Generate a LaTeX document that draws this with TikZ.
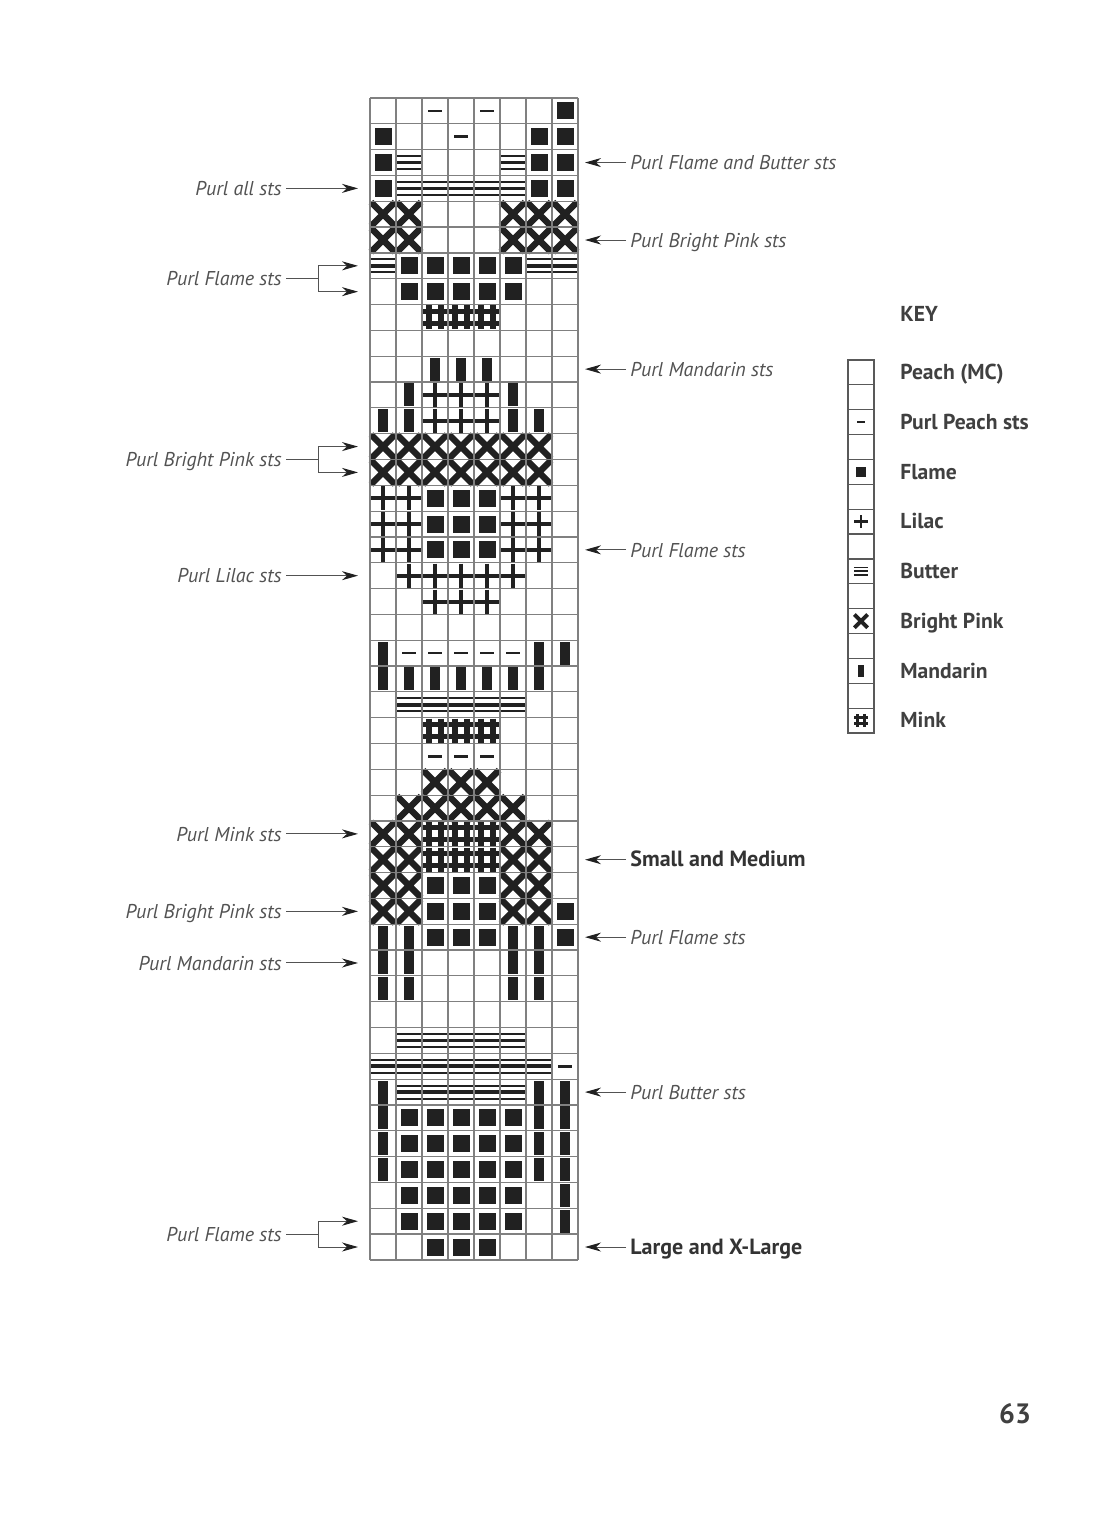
\documentclass[tikz,border=0pt]{standalone}
\usepackage{fontspec}
\setmainfont{PT Sans}
\usetikzlibrary{arrows.meta, positioning, calc}

\definecolor{ink}{gray}{0.13}
\definecolor{rule}{gray}{0.5}
\definecolor{note}{gray}{0.32}

\begin{document}
\begin{tikzpicture}[x=0.5pt, y=-0.5pt,
  symw/.store in=\symw, symw=1,
  gridline/.style={draw=rule, line width=0.6pt},
  keybox/.style={draw=black!65, line width=0.6pt},
  note/.style={font=\fontsize{10}{12}\selectfont\itshape, text=note, inner sep=2pt, text height=1.45ex, text depth=0pt},
  size/.style={note, font=\fontsize{11}{13}\selectfont\bfseries, text=black!80},
  keytext/.style={font=\fontsize{10.8}{13}\selectfont\bfseries, text=black!75, inner sep=2pt, text height=1.45ex, text depth=0pt},
  arrow/.style={-{Stealth[length=8pt, width=4.5pt, inset=2.5pt, color=ink]}, draw=note, line width=0.5pt},
  tie/.style={draw=note, line width=0.5pt},
  O/.pic={},
  P/.pic={\draw[ink, line width=\symw*1.3pt] (-7,0) -- (7,0);},
  F/.pic={\fill[ink] (-8.5,-8.5) rectangle (8.5,8.5);},
  B/.pic={\draw[ink, line width=\symw*1pt] (-13,-6.5) -- (13,-6.5) (-13,6.5) -- (13,6.5);
          \draw[ink, line width=\symw*1.8pt] (-13,0) -- (13,0);},
  X/.pic={\draw[ink, line width=\symw*3.2pt] (-12,-12) -- (12,12) (-12,12) -- (12,-12);},
  L/.pic={\draw[ink, line width=\symw*2pt] (-12,0) -- (12,0) (0,-12) -- (0,12);},
  M/.pic={\fill[ink] (-5,-11.5) rectangle (5,11.5);},
  K/.pic={\draw[ink, line width=\symw*2.6pt] (-12,-6) -- (12,-6) (-12,6) -- (12,6) (-6,-12) -- (-6,12) (6,-12) -- (6,12);}
]
\useasboundingbox (0,0) rectangle (1107,1513);

% chart, one row per line, top row first
\foreach \row [count=\r] in {
  {O,O,P,O,P,O,O,F},
  {F,O,O,P,O,O,F,F},
  {F,B,O,O,O,B,F,F},
  {F,B,B,B,B,B,F,F},
  {X,X,O,O,O,X,X,X},
  {X,X,O,O,O,X,X,X},
  {B,F,F,F,F,F,B,B},
  {O,F,F,F,F,F,O,O},
  {O,O,K,K,K,O,O,O},
  {O,O,O,O,O,O,O,O},
  {O,O,M,M,M,O,O,O},
  {O,M,L,L,L,M,O,O},
  {M,M,L,L,L,M,M,O},
  {X,X,X,X,X,X,X,O},
  {X,X,X,X,X,X,X,O},
  {L,L,F,F,F,L,L,O},
  {L,L,F,F,F,L,L,O},
  {L,L,F,F,F,L,L,O},
  {O,L,L,L,L,L,O,O},
  {O,O,L,L,L,O,O,O},
  {O,O,O,O,O,O,O,O},
  {M,P,P,P,P,P,M,M},
  {M,M,M,M,M,M,M,O},
  {O,B,B,B,B,B,O,O},
  {O,O,K,K,K,O,O,O},
  {O,O,P,P,P,O,O,O},
  {O,O,X,X,X,O,O,O},
  {O,X,X,X,X,X,O,O},
  {X,X,K,K,K,X,X,O},
  {X,X,K,K,K,X,X,O},
  {X,X,F,F,F,X,X,O},
  {X,X,F,F,F,X,X,F},
  {M,M,F,F,F,M,M,F},
  {M,M,O,O,O,M,M,O},
  {M,M,O,O,O,M,M,O},
  {O,O,O,O,O,O,O,O},
  {O,B,B,B,B,B,O,O},
  {B,B,B,B,B,B,B,P},
  {M,B,B,B,B,B,M,M},
  {M,F,F,F,F,F,M,M},
  {M,F,F,F,F,F,M,M},
  {M,F,F,F,F,F,M,M},
  {O,F,F,F,F,F,O,M},
  {O,F,F,F,F,F,O,M},
  {O,O,F,F,F,O,O,O}}{
  \foreach \s [count=\c] in \row
    \pic at (357+26*\c, 85.1+25.82*\r) {\s};
}

\foreach \c in {0,...,8}
  \draw[gridline] (370+26*\c, 98) -- (370+26*\c, 1259.9);
\foreach \r in {0,...,45}
  \draw[gridline] (370, 98+25.82*\r) -- (578, 98+25.82*\r);

% arrow ends on both sides of each row
\foreach \r in {1,...,45} {
  \coordinate (L\r) at (358, 85.1+25.82*\r);
  \coordinate (R\r) at (585, 85.1+25.82*\r);
}
\coordinate (M7) at ($(L7)!.5!(L8)$);
\coordinate (M14) at ($(L14)!.5!(L15)$);
\coordinate (M44) at ($(L44)!.5!(L45)$);

% left notes
\node[note, left=36pt of L4] (pall) {Purl all sts};
\node[note, left=36pt of M7] (pfl1) {Purl Flame sts};
\node[note, left=36pt of M14] (ppk1) {Purl Bright Pink sts};
\node[note, left=36pt of L19] (plil) {Purl Lilac sts};
\node[note, left=36pt of L29] (pmnk) {Purl Mink sts};
\node[note, left=36pt of L32] (ppk2) {Purl Bright Pink sts};
\node[note, left=36pt of L34] (pman1) {Purl Mandarin sts};
\node[note, left=36pt of M44] (pfl2) {Purl Flame sts};

\draw[arrow] (pall) -- (L4);
\draw[arrow] (plil) -- (L19);
\draw[arrow] (pmnk) -- (L29);
\draw[arrow] (ppk2) -- (L32);
\draw[arrow] (pman1) -- (L34);

\draw[tie] (pfl1.east) -- ++(16pt,0) coordinate (j1);
\draw[arrow] (j1) |- (L7);
\draw[arrow] (j1) |- (L8);
\draw[tie] (ppk1.east) -- ++(16pt,0) coordinate (j2);
\draw[arrow] (j2) |- (L14);
\draw[arrow] (j2) |- (L15);
\draw[tie] (pfl2.east) -- ++(16pt,0) coordinate (j3);
\draw[arrow] (j3) |- (L44);
\draw[arrow] (j3) |- (L45);

% right notes
\node[note, right=20.5pt of R3] (pfb) {Purl Flame and Butter sts};
\node[note, right=20.5pt of R6] (ppk3) {Purl Bright Pink sts};
\node[note, right=20.5pt of R11] (pman2) {Purl Mandarin sts};
\node[note, right=20.5pt of R18] (pfl3) {Purl Flame sts};
\node[size, right=20.5pt of R30] (sm) {Small and Medium};
\node[note, right=20.5pt of R33] (pfl4) {Purl Flame sts};
\node[note, right=20.5pt of R39] (pbut) {Purl Butter sts};
\node[size, right=20.5pt of R45] (lxl) {Large and X-Large};

\draw[arrow] (pfb) -- (R3);
\draw[arrow] (ppk3) -- (R6);
\draw[arrow] (pman2) -- (R11);
\draw[arrow] (pfl3) -- (R18);
\draw[arrow] (sm) -- (R30);
\draw[arrow] (pfl4) -- (R33);
\draw[arrow] (pbut) -- (R39);
\draw[arrow] (lxl) -- (R45);

% key
\node[keytext, anchor=west] (keyhd) at (896,314) {KEY};
\foreach \i in {0,...,14}
  \draw[keybox] (848, 360+24.87*\i) rectangle ++(26, 24.87);
\foreach \s/\name [count=\k] in {O/Peach (MC), P/Purl Peach sts, F/Flame, L/Lilac,
    B/Butter, X/Bright Pink, M/Mandarin, K/Mink} {
  \coordinate (key\k) at (861, 322.7+49.74*\k);
  \pic[scale=.55, symw=.6] at (key\k) {\s};
  \node[keytext, right=17.5pt of key\k] (kt\k) {\name};
}

\node[font=\fontsize{14}{16}\selectfont\bfseries, text=black!75] (pgno) at (1015,1414) {63};
\end{tikzpicture}
\end{document}
